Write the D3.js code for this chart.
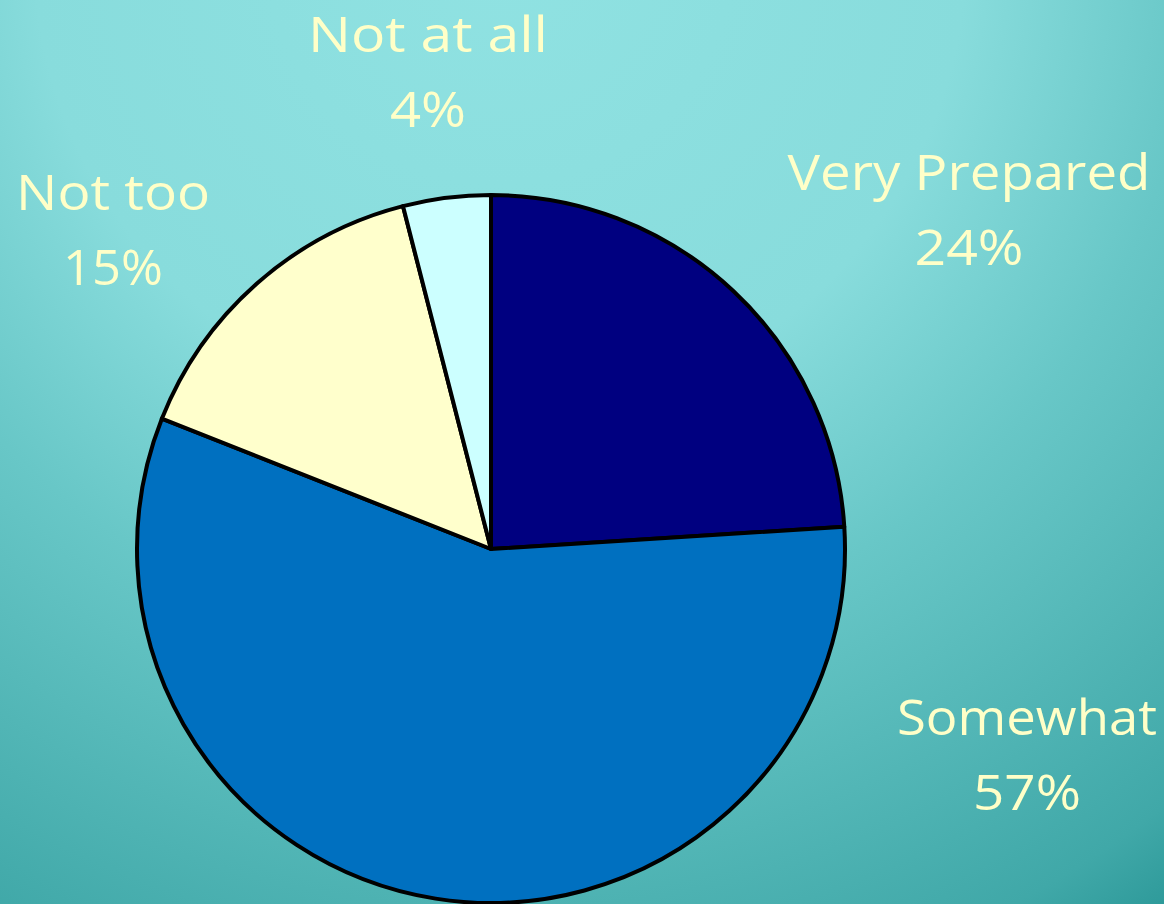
<!DOCTYPE html>
<html>
<head>
<meta charset="utf-8">
<script src="https://cdn.jsdelivr.net/npm/d3@7"></script>
<style>
  html, body { margin: 0; padding: 0; overflow: hidden; }
  svg { display: block; }
</style>
</head>
<body>
<div id="chart"></div>
<script>
// データ
const categories = ["Very Prepared", "Somewhat", "Not too", "Not at all"];
const values = [24, 57, 15, 4];
const colors = ["#000080", "#0070C0", "#FFFFCC", "#CCFFFF"];

const width = 1164, height = 904;
const cx = 491, cy = 549, radius = 354;

// ラベル位置（中心x, 1行目ベースラインy）
const labelPos = [
  { x: 969, y: 190 },
  { x: 1027, y: 735 },
  { x: 113, y: 210 },
  { x: 428, y: 52 }
];
const lineGap = 75;

const svg = d3.select("#chart")
  .append("svg")
    .attr("width", width)
    .attr("height", height);

// 背景グラデーション
const defs = svg.append("defs");
const grad = defs.append("radialGradient")
  .attr("id", "bg")
  .attr("gradientUnits", "userSpaceOnUse")
  .attr("cx", 500).attr("cy", -50)
  .attr("r", 1165);
grad.append("stop").attr("offset", "0%").attr("stop-color", "#90E2E2");
grad.append("stop").attr("offset", "40%").attr("stop-color", "#88DCDC");
grad.append("stop").attr("offset", "60%").attr("stop-color", "#68C7C7");
grad.append("stop").attr("offset", "93%").attr("stop-color", "#40A8A8");
grad.append("stop").attr("offset", "100%").attr("stop-color", "#2E9A9A");

svg.append("rect")
  .attr("width", width)
  .attr("height", height)
  .attr("fill", "url(#bg)");

// パイ
const data = categories.map((c, i) => ({ name: c, value: values[i], color: colors[i] }));
const pie = d3.pie().sort(null).value(d => d.value);
const arc = d3.arc().innerRadius(0).outerRadius(radius);

const g = svg.append("g").attr("transform", `translate(${cx},${cy})`);
g.selectAll("path")
  .data(pie(data))
  .enter()
  .append("path")
    .attr("d", arc)
    .attr("fill", d => d.data.color)
    .attr("stroke", "#000")
    .attr("stroke-width", 4)
    .attr("stroke-linejoin", "round");

// ラベル（2行）
const widths = [363, 260, 194, 240];
const pctWidths = [109, 108, 100, 76];
const lbl = svg.selectAll(".lbl")
  .data(data)
  .enter()
  .append("g")
    .attr("class", "lbl");

lbl.append("text")
  .attr("x", (d, i) => labelPos[i].x)
  .attr("y", (d, i) => labelPos[i].y)
  .attr("text-anchor", "middle")
  .attr("textLength", (d, i) => widths[i])
  .attr("lengthAdjust", "spacingAndGlyphs")
  .style("font-family", "'Comic Sans MS', 'Open Sans', sans-serif")
  .style("font-size", "50px")
  .style("fill", "#FFFFC8")
  .text(d => d.name);

lbl.append("text")
  .attr("x", (d, i) => labelPos[i].x)
  .attr("y", (d, i) => labelPos[i].y + lineGap)
  .attr("text-anchor", "middle")
  .attr("textLength", (d, i) => pctWidths[i])
  .attr("lengthAdjust", "spacingAndGlyphs")
  .style("font-family", "'Comic Sans MS', 'Open Sans', sans-serif")
  .style("font-size", "50px")
  .style("fill", "#FFFFC8")
  .text(d => d.value + "%");
</script>
</body>
</html>
